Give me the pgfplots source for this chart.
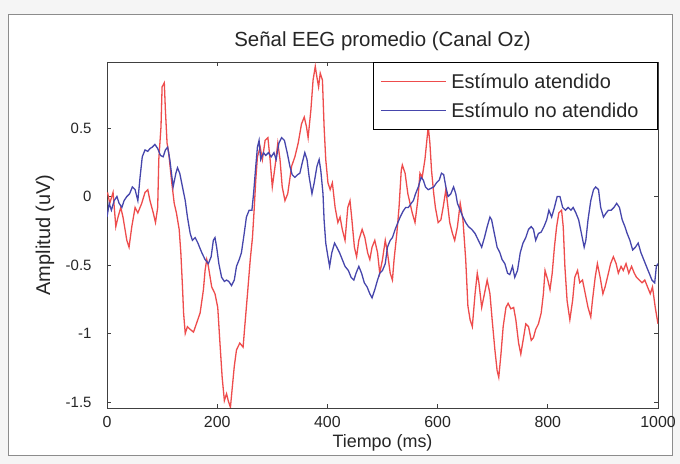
\documentclass[border=0pt]{standalone}
\usepackage{fontspec}
\setmainfont{Liberation Sans}
\usepackage{pgfplots}
\pgfplotsset{compat=1.18}
\definecolor{redl}{RGB}{238,76,76}
\definecolor{bluel}{RGB}{70,70,172}
\pgfplotstableread{
t y
1 0.03
5 -0.05
11 0.03
16 -0.22
20 -0.15
25 -0.08
29 -0.15
36 -0.32
40 -0.37
45 -0.22
51 -0.08
56 -0.12
63 -0.05
69 0.03
74 0.05
78 -0.03
84 -0.12
88 -0.19
92 -0.08
94 0.27
98 0.51
100 0.80
104 0.83
106 0.63
109 0.39
112 0.32
117 0.12
122 -0.05
126 -0.12
131 -0.24
134 -0.41
137 -0.66
139 -0.85
142 -1.00
146 -0.95
151 -0.97
157 -0.99
163 -0.92
169 -0.85
175 -0.68
178 -0.54
181 -0.46
184 -0.51
190 -0.66
196 -0.71
201 -0.81
205 -1.07
209 -1.32
213 -1.49
217 -1.44
220 -1.49
224 -1.54
227 -1.41
231 -1.24
235 -1.12
241 -1.07
247 -1.10
250 -0.95
255 -0.71
260 -0.46
264 -0.30
267 -0.10
270 0.12
273 0.29
278 0.36
282 0.27
287 0.41
292 0.43
296 0.27
300 0.07
305 0.22
310 0.39
314 0.27
318 0.07
323 -0.03
328 0.02
335 0.22
341 0.29
347 0.39
353 0.53
358 0.58
362 0.51
365 0.43
370 0.63
374 0.85
378 0.95
381 0.87
384 0.80
387 0.90
391 0.85
394 0.51
397 0.27
401 0.10
405 0.05
409 0.10
414 -0.08
419 -0.19
423 -0.15
427 -0.24
432 -0.32
437 -0.08
441 -0.03
444 -0.15
449 -0.37
453 -0.44
457 -0.32
463 -0.24
468 -0.30
473 -0.41
477 -0.46
481 -0.37
486 -0.32
491 -0.41
495 -0.56
500 -0.46
505 -0.32
509 -0.41
514 -0.56
518 -0.61
521 -0.46
526 -0.27
530 -0.08
534 0.19
536 0.23
541 0.17
546 0.02
550 -0.05
554 -0.12
559 -0.19
564 -0.03
568 0.17
572 0.14
577 0.27
581 0.43
583 0.51
586 0.39
589 0.19
593 0.02
596 -0.08
601 -0.19
606 -0.17
610 -0.08
615 0.05
618 -0.05
622 -0.19
627 -0.27
631 -0.32
636 -0.22
641 -0.05
646 -0.17
651 -0.46
655 -0.80
659 -0.90
663 -0.95
668 -0.71
672 -0.56
675 -0.63
680 -0.81
685 -0.71
690 -0.61
695 -0.71
699 -0.90
704 -1.12
708 -1.27
711 -1.32
715 -1.15
719 -0.95
724 -0.81
728 -0.78
733 -0.82
738 -0.81
742 -0.90
747 -1.07
751 -1.15
756 -1.03
760 -0.93
765 -0.95
770 -1.05
774 -1.03
778 -0.97
783 -0.93
788 -0.85
792 -0.71
795 -0.54
800 -0.61
804 -0.68
808 -0.56
812 -0.37
816 -0.22
820 -0.12
825 -0.10
828 -0.22
831 -0.51
835 -0.76
840 -0.90
845 -0.76
849 -0.59
854 -0.54
858 -0.63
863 -0.61
868 -0.71
873 -0.81
878 -0.88
881 -0.76
886 -0.59
890 -0.49
895 -0.59
900 -0.71
904 -0.66
910 -0.56
914 -0.49
919 -0.44
924 -0.49
928 -0.56
933 -0.51
937 -0.54
942 -0.49
947 -0.56
952 -0.51
957 -0.56
961 -0.59
966 -0.61
971 -0.63
976 -0.61
981 -0.66
986 -0.71
990 -0.66
995 -0.81
1000 -0.93
}\atendido
\pgfplotstableread{
t y
0 -0.15
4 -0.05
8 -0.10
13 -0.03
18 0.00
22 -0.05
27 -0.08
31 -0.03
36 0.00
41 0.02
46 0.07
51 0.05
56 -0.03
60 0.14
64 0.29
69 0.34
74 0.33
78 0.35
82 0.36
87 0.38
92 0.35
97 0.30
102 0.29
106 0.34
110 0.36
114 0.27
117 0.17
120 0.07
125 0.17
128 0.21
132 0.17
137 0.07
142 -0.03
146 -0.15
151 -0.27
155 -0.32
160 -0.30
165 -0.34
172 -0.41
178 -0.46
184 -0.49
189 -0.44
193 -0.32
196 -0.30
199 -0.37
203 -0.49
208 -0.59
213 -0.62
217 -0.61
221 -0.62
226 -0.65
231 -0.61
235 -0.51
240 -0.46
244 -0.41
249 -0.27
253 -0.15
258 -0.10
263 -0.10
266 0.02
270 0.22
273 0.36
276 0.41
279 0.27
284 0.32
288 0.30
293 0.32
298 0.29
303 0.32
307 0.27
312 0.39
317 0.43
322 0.41
327 0.32
332 0.22
336 0.16
341 0.14
346 0.16
350 0.17
354 0.24
359 0.32
363 0.27
367 0.14
372 0.02
376 0.10
381 0.22
385 0.27
388 0.19
392 0.02
394 -0.17
397 -0.34
401 -0.44
404 -0.51
408 -0.41
413 -0.34
417 -0.37
422 -0.41
427 -0.46
432 -0.51
438 -0.54
443 -0.59
448 -0.61
452 -0.56
457 -0.51
462 -0.56
467 -0.63
472 -0.66
477 -0.71
481 -0.74
486 -0.68
491 -0.61
495 -0.56
500 -0.54
505 -0.49
509 -0.37
514 -0.32
518 -0.30
523 -0.24
528 -0.19
532 -0.15
537 -0.11
542 -0.08
547 -0.08
552 -0.05
556 -0.03
560 0.02
565 0.07
570 0.14
574 0.12
578 0.07
583 0.05
588 0.06
593 0.07
598 0.10
603 0.12
607 0.17
611 0.16
615 0.07
619 0.00
624 0.02
629 0.07
633 0.02
636 -0.05
641 -0.10
646 -0.15
651 -0.19
656 -0.22
662 -0.24
668 -0.27
674 -0.32
680 -0.37
685 -0.30
690 -0.22
695 -0.15
698 -0.17
703 -0.27
708 -0.37
713 -0.41
717 -0.46
722 -0.49
727 -0.56
731 -0.57
736 -0.51
740 -0.59
745 -0.54
750 -0.41
755 -0.34
760 -0.30
765 -0.24
770 -0.22
774 -0.24
778 -0.32
783 -0.27
788 -0.26
793 -0.22
798 -0.17
802 -0.10
807 -0.15
812 -0.08
817 0.00
822 0.00
827 -0.08
832 -0.10
837 -0.08
842 -0.10
846 -0.08
851 -0.12
856 -0.17
861 -0.27
866 -0.37
869 -0.32
873 -0.17
878 -0.03
883 0.05
887 0.07
892 0.05
896 -0.08
901 -0.15
906 -0.12
910 -0.10
915 -0.10
920 -0.08
925 -0.05
930 -0.08
935 -0.17
940 -0.22
944 -0.27
949 -0.32
954 -0.39
959 -0.37
964 -0.34
969 -0.41
974 -0.46
979 -0.51
984 -0.56
989 -0.61
994 -0.63
997 -0.51
1000 -0.49
}\noatendido
\begin{document}
\begin{tikzpicture}
\useasboundingbox (0,0) rectangle (680bp,464bp);
\fill[black!4] (0,0) rectangle (680bp,464bp);
\draw[black!45, fill=white, line width=0.8bp] (8bp,9bp) rectangle (672bp,450bp);
\begin{axis}[
  at={(107bp,56bp)}, anchor=south west,
  scale only axis, width=551bp, height=346bp,
  xmin=0, xmax=1000, ymin=-1.544, ymax=0.982,
  xtick={0,200,400,600,800,1000},
  xticklabels={0,200,400,600,800,1000},
  ytick={-1.5,-1,-0.5,0,0.5},
  yticklabels={-1.5,-1,-0.5,0,0.5},
  tick align=inside, major tick length=4bp,
  axis line style={black!75, line width=0.7bp},
  every tick/.style={black!75, line width=0.7bp},
  x tick label style={font=\fontsize{16}{18}\selectfont, black!85, yshift=-5bp},
  y tick label style={font=\fontsize{15}{17}\selectfont, black!85, xshift=-12bp},
  xlabel={Tiempo (ms)},
  ylabel={Amplitud (uV)},
  xlabel style={font=\fontsize{18}{20}\selectfont, black!85,
    at={(axis description cs:0.5,-0.101)}, anchor=center},
  ylabel style={font=\fontsize{20}{22}\selectfont, black!85,
    at={(axis description cs:-0.1125,0.5)}, anchor=center},
  title={Señal EEG promedio (Canal Oz)},
  title style={font=\fontsize{20.5}{22}\selectfont, black!85,
    at={(axis description cs:0.5,1.0434)}, anchor=center},
  legend style={at={(1,1)}, anchor=north east, draw=black, line width=0.8bp,
    font=\fontsize{20}{22}\selectfont, text=black!85,
    inner xsep=7bp, inner ysep=9bp, row sep=9bp},
  legend cell align=left,
  legend image code/.code={\draw[#1] (0bp,0bp) -- (65bp,0bp); \path (68bp,0bp);},
  clip=true,
]
\addplot[redl, line width=1.3bp] table[x=t,y=y] {\atendido};
\addlegendentry{Estímulo atendido}
\addplot[bluel, line width=1.3bp] table[x=t,y=y] {\noatendido};
\addlegendentry{Estímulo no atendido\hspace*{10bp}}
\end{axis}
\end{tikzpicture}
\end{document}
